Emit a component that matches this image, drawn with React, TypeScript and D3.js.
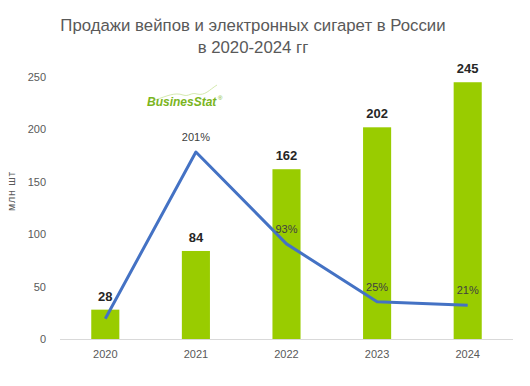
import { useEffect, useRef } from 'react';
import * as d3 from 'd3';

const years = ['2020', '2021', '2022', '2023', '2024'];
const sales = [28, 84, 162, 202, 245];
// growth vs previous year, %; first point has no label in the chart
const growth = [5, 201, 93, 25, 21];
const growthLabels = ['', '201%', '93%', '25%', '21%'];
const yTicks = [0, 50, 100, 150, 200, 250];

export default function App() {
  const svgRef = useRef<SVGSVGElement>(null);

  useEffect(() => {
    if (!svgRef.current) return;
    const svg = d3.select(svgRef.current);
    svg.selectAll('*').remove();

    const width = 530;
    const height = 386;
    const margin = { top: 77, right: 17, bottom: 47, left: 60 };
    const innerW = width - margin.left - margin.right;
    const innerH = height - margin.top - margin.bottom;
    const font = 'Liberation Sans, Arial, sans-serif';

    svg.attr('width', width).attr('height', height).style('font-family', font);

    // Title
    const title = svg.append('text')
      .attr('text-anchor', 'middle')
      .style('font-size', '16.8px')
      .style('fill', '#595959');
    title.append('tspan').attr('x', 253).attr('y', 31).text('Продажи вейпов и электронных сигарет в России');
    title.append('tspan').attr('x', 253).attr('y', 53).text('в 2020-2024 гг');

    const g = svg.append('g').attr('transform', `translate(${margin.left},${margin.top})`);

    const x = d3.scaleBand().domain(years).range([0, innerW])
      .paddingInner(0.69)
      .paddingOuter(0.345);
    const y = d3.scaleLinear().domain([0, 250]).range([innerH, 0]);
    const y2 = d3.scaleLinear().domain([0, 201]).range([innerH - 16, innerH - 187]);

    // Y axis labels
    g.selectAll('.ytick')
      .data(yTicks)
      .join('text')
      .attr('class', 'ytick')
      .attr('x', -14)
      .attr('y', d => y(d) + 4)
      .attr('text-anchor', 'end')
      .style('font-size', '11px')
      .style('fill', '#595959')
      .text(d => d);

    svg.append('text')
      .attr('transform', `translate(15,${margin.top + 114}) rotate(-90)`)
      .attr('text-anchor', 'middle')
      .style('font-size', '10.5px')
      .style('letter-spacing', '0.8px')
      .style('fill', '#595959')
      .text('млн  шт');

    // Baseline
    g.append('line')
      .attr('x1', 0)
      .attr('x2', innerW)
      .attr('y1', innerH + 0.5)
      .attr('y2', innerH + 0.5)
      .attr('stroke', '#d9d9d9');

    // X labels
    g.selectAll('.xtick')
      .data(years)
      .join('text')
      .attr('class', 'xtick')
      .attr('x', d => (x(d) || 0) + x.bandwidth() / 2)
      .attr('y', innerH + 19)
      .attr('text-anchor', 'middle')
      .style('font-size', '11px')
      .style('fill', '#595959')
      .text(d => d);

    // Bars
    g.selectAll('.bar')
      .data(sales)
      .join('rect')
      .attr('class', 'bar')
      .attr('x', (_, i) => x(years[i]) || 0)
      .attr('y', d => y(d))
      .attr('width', x.bandwidth())
      .attr('height', d => innerH - y(d))
      .attr('fill', '#99cc00');

    g.selectAll('.bar-label')
      .data(sales)
      .join('text')
      .attr('class', 'bar-label')
      .attr('x', (_, i) => (x(years[i]) || 0) + x.bandwidth() / 2)
      .attr('y', d => y(d) - 9)
      .attr('text-anchor', 'middle')
      .style('font-size', '13px')
      .style('font-weight', 'bold')
      .style('fill', '#262626')
      .text(d => d);

    // Growth line
    const line = d3.line<number>()
      .x((_, i) => (x(years[i]) || 0) + x.bandwidth() / 2)
      .y(d => y2(d));

    g.append('path')
      .datum(growth)
      .attr('fill', 'none')
      .attr('stroke', '#4472c4')
      .attr('stroke-width', 3)
      .attr('stroke-linejoin', 'round')
      .attr('d', line);

    g.selectAll('.growth-label')
      .data(growth)
      .join('text')
      .attr('class', 'growth-label')
      .attr('x', (_, i) => (x(years[i]) || 0) + x.bandwidth() / 2)
      .attr('y', d => y2(d) - 11)
      .attr('text-anchor', 'middle')
      .style('font-size', '11px')
      .style('fill', '#404040')
      .text((_, i) => growthLabels[i]);

    // BusinesStat logo
    const logo = svg.append('g').attr('transform', 'translate(147,106)');
    logo.append('path')
      .attr('d', 'M 8 -6 C 20 -10, 28 -14, 36 -11 C 42 -9, 44 -14, 50 -12 C 58 -10, 62 -16, 70 -21')
      .attr('fill', 'none')
      .attr('stroke', '#c9e39a')
      .attr('stroke-width', 0.8);
    logo.append('text')
      .attr('x', 0)
      .attr('y', 0)
      .style('font-size', '12px')
      .style('font-weight', 'bold')
      .style('font-style', 'italic')
      .style('fill', '#7ab51d')
      .text('BusinesStat');
    logo.append('text')
      .attr('x', 71)
      .attr('y', -6)
      .style('font-size', '6px')
      .style('fill', '#7ab51d')
      .text('®');
  }, []);

  return <svg ref={svgRef} style={{ display: 'block', margin: '-8px' }} />;
}
